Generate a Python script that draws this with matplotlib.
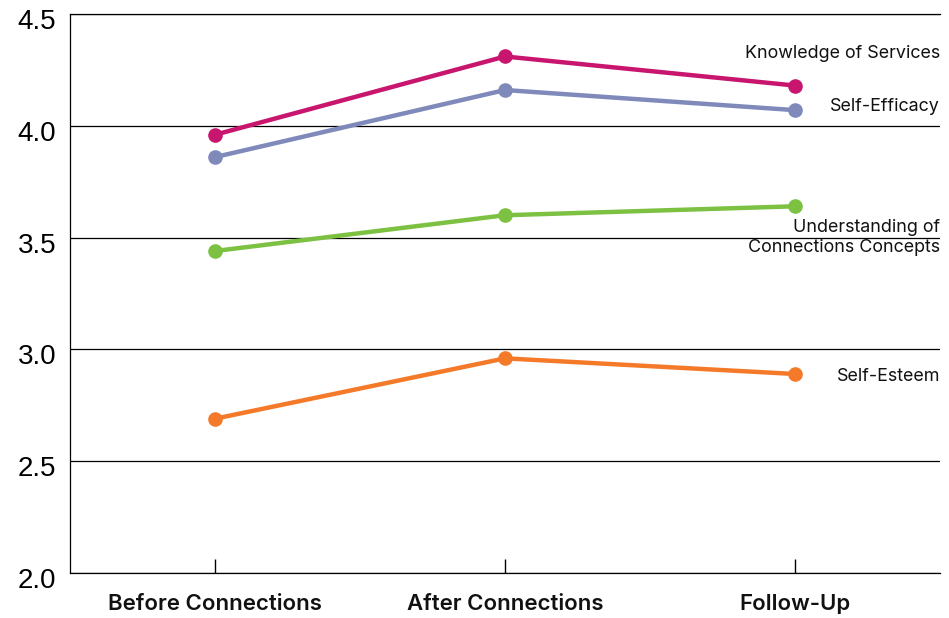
import matplotlib
matplotlib.use("Agg")
import matplotlib.pyplot as plt
import matplotlib.transforms as mtransforms

stages = ["Before Connections", "After Connections", "Follow-Up"]

knowledge = [3.96, 4.31, 4.18]
self_efficacy = [3.86, 4.16, 4.07]
understanding = [3.44, 3.60, 3.64]
self_esteem = [2.69, 2.96, 2.89]

series_names = ["Knowledge of Services", "Self-Efficacy",
                "Understanding of\nConnections Concepts", "Self-Esteem"]
series_values = [knowledge, self_efficacy, understanding, self_esteem]
series_colors = ["#C8166E", "#7F89BA", "#7CC142", "#F47A2A"]
# vertical offsets (pixels) of the end labels relative to the last point
label_offsets = [32, 4, -31, -3]

y_ticks = [2.0, 2.5, 3.0, 3.5, 4.0, 4.5]

fig = plt.figure(figsize=(9.49, 6.18), dpi=100)
ax = fig.add_axes([70 / 949, 45 / 618, 870 / 949, 559 / 618])

x = list(range(len(stages)))
for vals, col in zip(series_values, series_colors):
    ax.plot(x, vals, color=col, lw=3.2, marker="o", ms=9.5,
            solid_capstyle="round", zorder=3)

ax.set_xlim(-0.5, 2.5)
ax.set_ylim(2.0, 4.5)
ax.set_yticks(y_ticks)
ax.set_yticklabels([f"{v:.1f}" for v in y_ticks], fontsize=20,
                   family="Liberation Sans")
ax.tick_params(axis="y", length=0, pad=10)
for lab in ax.get_yticklabels():
    lab.set_transform(lab.get_transform() +
                      mtransforms.ScaledTranslation(0, -5 / 100, fig.dpi_scale_trans))

ax.set_xticks(x)
ax.set_xticklabels(stages, fontsize=16, family="Inter",
                   fontweight="semibold", color="#111111")
ax.tick_params(axis="x", direction="in", length=10, width=1, pad=15)

ax.grid(axis="y", color="black", lw=0.9)
ax.set_axisbelow(True)
ax.spines["right"].set_visible(False)
for side in ["left", "bottom", "top"]:
    ax.spines[side].set_linewidth(0.9)

blend = mtransforms.blended_transform_factory(ax.transAxes, ax.transData)
for name, vals, off in zip(series_names, series_values, label_offsets):
    tr = blend + mtransforms.ScaledTranslation(0, off / 100, fig.dpi_scale_trans)
    ax.text(1.0, vals[-1], name, transform=tr, ha="right", va="center",
            fontsize=12.9, family="Inter", color="#111111", linespacing=1.2)

fig.savefig("out.png", dpi=100)
